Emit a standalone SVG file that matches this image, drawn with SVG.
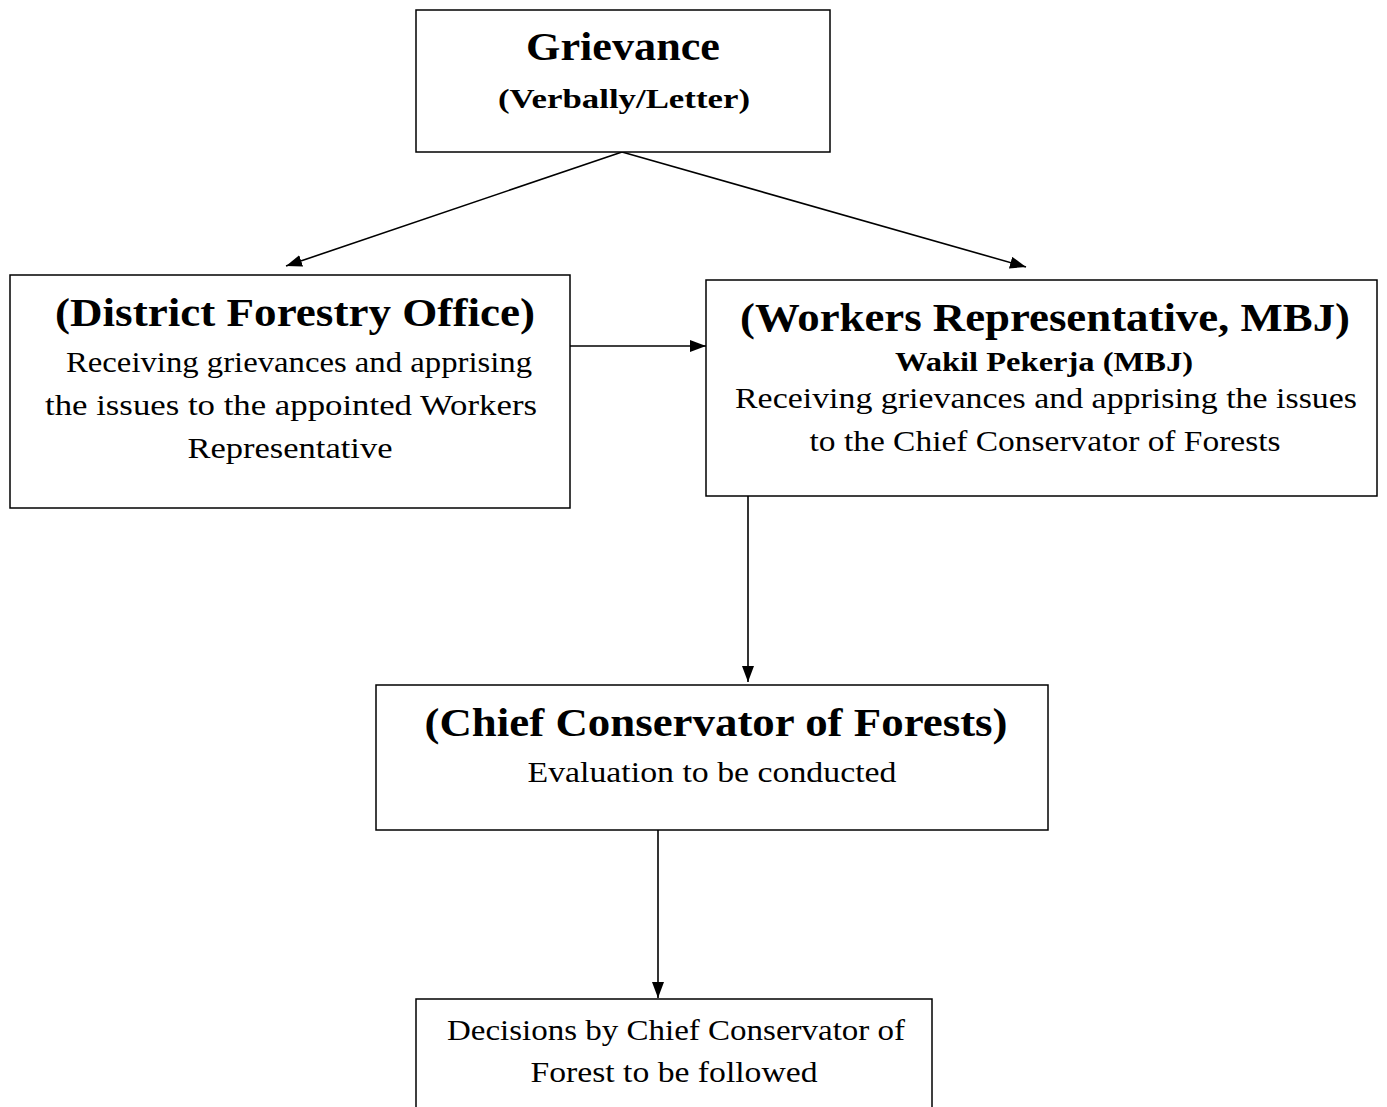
<svg xmlns="http://www.w3.org/2000/svg" width="1387" height="1107" viewBox="0 0 1387 1107">
<defs>
<marker id="ah" viewBox="0 0 16 12" refX="16" refY="6" markerWidth="16" markerHeight="12" markerUnits="userSpaceOnUse" orient="auto">
<path d="M0,0 L16,6 L0,12 Z" fill="#000"/>
</marker>
</defs>
<style>
.box{fill:#fff;stroke:#000;stroke-width:1.5}
.t{font-family:"Liberation Serif","DejaVu Serif",serif;fill:#000;text-anchor:middle}
.b{font-weight:bold}
.h{font-size:41px}
.s{font-size:27px}
.m{font-size:29px}
.edge{stroke:#000;stroke-width:1.6;fill:none;marker-end:url(#ah)}
</style>
<rect width="1387" height="1107" fill="#fff"/>
<g id="connectors">
<line class="edge" x1="622" y1="152" x2="286" y2="266"/>
<line class="edge" x1="622" y1="152" x2="1026" y2="267"/>
<line class="edge" x1="570" y1="346" x2="706" y2="346"/>
<line class="edge" x1="748" y1="496" x2="748" y2="682"/>
<line class="edge" x1="658" y1="830" x2="658" y2="998"/>
</g>
<g id="grievance">
<rect class="box" x="416" y="10" width="414" height="142"/>
<text class="t b" x="623" y="60" font-size="39" textLength="194" lengthAdjust="spacingAndGlyphs">Grievance</text>
<text class="t b s" x="624" y="108" textLength="252" lengthAdjust="spacingAndGlyphs">(Verbally/Letter)</text>
</g>
<g id="district">
<rect class="box" x="10" y="275" width="560" height="233"/>
<text class="t b h" x="295" y="326" textLength="480" lengthAdjust="spacingAndGlyphs">(District Forestry Office)</text>
<text class="t m" x="299" y="372" textLength="466" lengthAdjust="spacingAndGlyphs">Receiving grievances and apprising</text>
<text class="t m" x="291" y="415" textLength="492" lengthAdjust="spacingAndGlyphs">the issues to the appointed Workers</text>
<text class="t m" x="290" y="458" textLength="205" lengthAdjust="spacingAndGlyphs">Representative</text>
</g>
<g id="workers">
<rect class="box" x="706" y="280" width="671" height="216"/>
<text class="t b h" x="1045" y="331" textLength="610" lengthAdjust="spacingAndGlyphs">(Workers Representative, MBJ)</text>
<text class="t b s" x="1044" y="371" textLength="298" lengthAdjust="spacingAndGlyphs">Wakil Pekerja (MBJ)</text>
<text class="t m" x="1046" y="408" textLength="622" lengthAdjust="spacingAndGlyphs">Receiving grievances and apprising the issues</text>
<text class="t m" x="1045" y="451" textLength="471" lengthAdjust="spacingAndGlyphs">to the Chief Conservator of Forests</text>
</g>
<g id="chief">
<rect class="box" x="376" y="685" width="672" height="145"/>
<text class="t b h" x="716" y="736" textLength="583" lengthAdjust="spacingAndGlyphs">(Chief Conservator of Forests)</text>
<text class="t m" x="712" y="782" textLength="369" lengthAdjust="spacingAndGlyphs">Evaluation to be conducted</text>
</g>
<g id="decisions">
<rect class="box" x="416" y="999" width="516" height="130"/>
<text class="t m" x="676" y="1040" textLength="458" lengthAdjust="spacingAndGlyphs">Decisions by Chief Conservator of</text>
<text class="t m" x="674" y="1082" textLength="287" lengthAdjust="spacingAndGlyphs">Forest to be followed</text>
</g>
</svg>
